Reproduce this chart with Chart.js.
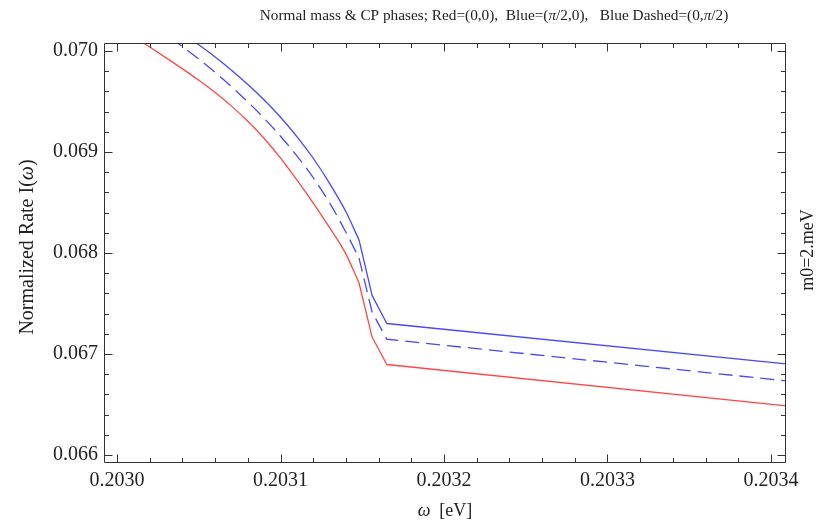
<!DOCTYPE html>
<html>
<head>
<meta charset="utf-8">
<script src="https://cdn.jsdelivr.net/npm/chart.js@4/dist/chart.umd.min.js"></script>
<style>
  html, body { margin: 0; padding: 0; background: #fff; }
  #wrap { width: 822px; height: 530px; position: relative; }
</style>
</head>
<body>
<div id="wrap"><canvas id="c" width="822" height="530"></canvas></div>
<script>
// Photon energy omega [eV]
const omega = [
  0.20300, 0.20301, 0.20302, 0.20303, 0.20304, 0.20305, 0.20306, 0.20307,
  0.20308, 0.20309, 0.20310, 0.20311, 0.20312, 0.20313, 0.20314,
  0.203148, 0.203156, 0.203165, 0.20341
];
// Normalized rate I(omega) for each CP-phase choice
const rateRed = [
  0.070248, 0.070144, 0.070039, 0.069932, 0.069823, 0.069710, 0.069589, 0.069454,
  0.069304, 0.069134, 0.068940, 0.068724, 0.068494, 0.068251, 0.067989,
  0.067703, 0.067168, 0.066896, 0.066485
];
const rateBlue = [
  0.070572, 0.070482, 0.070386, 0.070284, 0.070176, 0.070062, 0.069941, 0.069810,
  0.069668, 0.069514, 0.069344, 0.069153, 0.068938, 0.068690, 0.068408,
  0.068129, 0.067580, 0.067302, 0.066901
];
const rateBlueDashed = [
  0.070464, 0.070369, 0.070267, 0.070158, 0.070043, 0.069920, 0.069788, 0.069647,
  0.069495, 0.069333, 0.069156, 0.068962, 0.068745, 0.068497, 0.068205,
  0.067950, 0.067416, 0.067146, 0.066733
];

// Labelled ticks
const xTicks = [0.2030, 0.2031, 0.2032, 0.2033, 0.2034];
const yTicks = [0.066, 0.067, 0.068, 0.069, 0.070];

// Index where the smooth branch ends and the kinked threshold region begins
const SMOOTH_END = 15;

const SERIF = '"Liberation Serif", "DejaVu Serif", serif';
const TEXT = '#222';
const RED = 'rgb(255,70,70)';
const BLUE = 'rgb(70,70,255)';

function toPoints(xs, ys) { return xs.map((x, i) => ({ x, y: ys[i] })); }

// Each curve: a smooth branch (monotone spline) followed by straight segments through the kinks
function curve(label, ys, color, dash) {
  const base = { borderColor: color, borderWidth: 1.3, borderDash: dash || [], borderJoinStyle: 'round' };
  return [
    Object.assign({ label: label, data: toPoints(omega.slice(0, SMOOTH_END + 1), ys.slice(0, SMOOTH_END + 1)),
      cubicInterpolationMode: 'monotone' }, base),
    Object.assign({ label: label, data: toPoints(omega.slice(SMOOTH_END), ys.slice(SMOOTH_END)),
      tension: 0 }, base)
  ];
}

// Draw a run of text pieces, some in italics, centred on (x, y)
function drawRich(ctx, parts, x, y, size) {
  let w = 0;
  const fonts = parts.map(p => (p[1] ? 'italic ' : '') + size + 'px ' + SERIF);
  parts.forEach((p, i) => { ctx.font = fonts[i]; w += ctx.measureText(p[0]).width; });
  let cx = x - w / 2;
  ctx.textAlign = 'left';
  ctx.textBaseline = 'middle';
  parts.forEach((p, i) => {
    ctx.font = fonts[i];
    ctx.fillText(p[0], cx, y);
    cx += ctx.measureText(p[0]).width;
  });
}

// Closed frame with inward major/minor ticks on all four sides, plus labels
const frameAndLabels = {
  id: 'frameAndLabels',
  afterDatasetsDraw(chart) {
    const { ctx, chartArea: a, scales: { x, y } } = chart;
    ctx.save();
    ctx.strokeStyle = '#333';
    ctx.lineWidth = 1;
    const L = Math.round(a.left) + 0.5, R = Math.round(a.right) - 0.5;
    const T = Math.round(a.top) + 0.5, B = Math.round(a.bottom) - 0.5;
    ctx.beginPath();
    ctx.rect(L, T, R - L, B - T);
    ctx.stroke();

    const major = 8, minor = 4.5;
    ctx.beginPath();
    for (let k = -5; k <= 25; k++) {
      const v = xTicks[0] + k * 0.00002;
      if (v < x.min || v > x.max) continue;
      const px = Math.round(x.getPixelForValue(v)) + 0.5;
      const len = (k % 5 === 0) ? major : minor;
      ctx.moveTo(px, B); ctx.lineTo(px, B - len);
      ctx.moveTo(px, T); ctx.lineTo(px, T + len);
    }
    for (let k = -5; k <= 25; k++) {
      const v = yTicks[0] + k * 0.0002;
      if (v < y.min || v > y.max) continue;
      const py = Math.round(y.getPixelForValue(v)) + 0.5;
      const len = (k % 5 === 0) ? major : minor;
      ctx.moveTo(L, py); ctx.lineTo(L + len, py);
      ctx.moveTo(R, py); ctx.lineTo(R - len, py);
    }
    ctx.stroke();

    ctx.fillStyle = TEXT;
    // Plot label
    drawRich(ctx, [
      ['Normal mass & CP phases; Red=(0,0),  Blue=(', false], ['\u03C0', true],
      ['/2,0),   Blue Dashed=(0,', false], ['\u03C0', true], ['/2)', false]
    ], 494, 16, 15.3);
    // x axis label
    drawRich(ctx, [['\u03C9', true], ['  [eV]', false]], 445, 511, 18);
    // y axis label
    ctx.save();
    ctx.translate(28, 247);
    ctx.rotate(-Math.PI / 2);
    drawRich(ctx, [['Normalized Rate I(', false], ['\u03C9', true], [')', false]], 0, 0, 20);
    ctx.restore();
    // right-hand annotation
    ctx.save();
    ctx.translate(808, 250);
    ctx.rotate(-Math.PI / 2);
    drawRich(ctx, [['m0=2.meV', false]], 0, 0, 18);
    ctx.restore();
    ctx.restore();
  }
};

new Chart(document.getElementById('c'), {
  type: 'line',
  data: {
    datasets: [].concat(
      curve('Red=(0,0)', rateRed, RED),
      curve('Blue=(\u03C0/2,0)', rateBlue, BLUE),
      curve('Blue Dashed=(0,\u03C0/2)', rateBlueDashed, BLUE, [14, 7])
    )
  },
  options: {
    responsive: false,
    animation: false,
    events: [],
    layout: { padding: { top: 43, right: 36, left: 0, bottom: 0 } },
    elements: {
      point: { radius: 0 },
      line: { fill: false }
    },
    plugins: { legend: { display: false }, title: { display: false }, tooltip: { enabled: false } },
    scales: {
      x: {
        type: 'linear',
        min: 0.202992,
        max: 0.2034092,
        afterFit(s) { s.height = 67; },
        afterBuildTicks(s) { s.ticks = xTicks.map(v => ({ value: v })); },
        grid: { display: false, drawTicks: false },
        border: { display: false },
        ticks: {
          padding: 6,
          maxRotation: 0,
          autoSkip: false,
          color: TEXT,
          font: { family: SERIF, size: 20 },
          callback: v => v.toFixed(4)
        }
      },
      y: {
        type: 'linear',
        min: 0.065921,
        max: 0.070079,
        afterFit(s) { s.width = 104; },
        afterBuildTicks(s) { s.ticks = yTicks.map(v => ({ value: v })); },
        grid: { display: false, drawTicks: false },
        border: { display: false },
        ticks: {
          padding: 6,
          autoSkip: false,
          color: TEXT,
          font: { family: SERIF, size: 20 },
          callback: v => v.toFixed(3)
        }
      }
    }
  },
  plugins: [frameAndLabels]
});
</script>
</body>
</html>
